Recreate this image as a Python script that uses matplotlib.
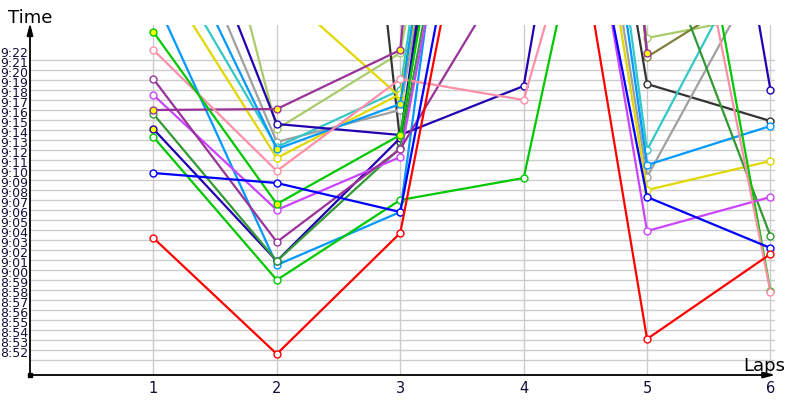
import matplotlib
matplotlib.use('Agg')
import matplotlib.pyplot as plt

# lap times in seconds (9:00 = 540), values above ~9:25 run off the top of the chart
laps = [1, 2, 3, 4, 5, 6]

red = [544.2, 532.6, 544.7, 608, 534.1, 542.6]
blue = [550.7, 549.7, 546.8, 611.6, 548.3, 543.2]
green = [554.3, 540.0, 548.0, 550.2, 607, 538.9]
green_y = [564.8, 547.6, 554.5, 625, 650, 635]
pink = [563.0, 550.9, 560.1, 558.0, 600.8, 538.8]
purple = [560.1, 543.8, 553.1, 573.5, 600, 590]
purple_y = [557.0, 557.1, 563.0, 690, 562.7, None]
violet = [558.5, 547.0, 552.3, 618, 544.9, 548.3]
dkgreen = [556.6, 541.9, 553.2, 620, 576.8, 544.4]
navy_y = [555.1, 541.9, 554.2, 640, 660, None]
navy = [587, 555.6, 554.5, 559.4, 630, 559.0]
dodger = [568.5, 541.5, 546.8, 638, 551.5, 555.4]
dodger_y = [578.7, 553.1, 557.6, 640, 660, None]
yellow = [571.8, 552.2, 558.6, 624.7, 549.0, 551.9]
yellow2 = [585, 569.3, 558.3, 630, 640, None]
cyan = [574.3, 553.3, 559.0, 644, 553.0, 576.3]
gray = [582.9, 553.8, 557.0, 628.6, 550.3, 572.8]
ygreen = [602.8, 555.1, 562.7, 630, 564.2, 566.6]
black = [670, 667, 553.8, 633, 559.6, 555.9]
olive = [None, None, None, 690, 562.3, 570]

# (values, line colour, marker fill)
series = [
    (ygreen, '#a8cc6a', 'white'),
    (olive, '#7f7f3c', 'white'),
    (black, '#333333', 'white'),
    (gray, '#a0a0a0', 'white'),
    (cyan, '#33c8c8', 'white'),
    (yellow2, '#e0d800', 'yellow'),
    (yellow, '#e0d800', 'white'),
    (dodger_y, '#0099ff', 'yellow'),
    (dodger, '#0099ff', 'white'),
    (navy, '#2200b0', 'white'),
    (navy_y, '#2200b0', 'yellow'),
    (dkgreen, '#339933', 'white'),
    (green, '#00c800', 'white'),
    (violet, '#cc44ff', 'white'),
    (purple_y, '#993399', 'yellow'),
    (purple, '#993399', 'white'),
    (pink, '#ff8fa8', 'white'),
    (green_y, '#00c800', 'yellow'),
    (blue, '#0000ff', 'white'),
    (red, '#ff0000', 'white'),
]

yticks = list(range(532, 563))
ytick_labels = ['%d:%02d' % (t // 60, t % 60) for t in yticks]

fig = plt.figure(figsize=(8, 4), dpi=100)
ax = fig.add_axes([30/800, 25/400, 745.4/800, 350/400])

for vals, col, face in series:
    xs = [l for l, v in zip(laps, vals) if v is not None]
    ys = [v for v in vals if v is not None]
    ax.plot(xs, ys, color=col, lw=1.6, marker='o', ms=5, mfc=face, mec=col, mew=1)

ax.set_xlim(0, 6.04)
ax.set_ylim(530.5, 565.5)
ax.set_xticks(laps)
ax.set_xticklabels([str(l) for l in laps])
ax.set_yticks(yticks)
ax.set_yticklabels(ytick_labels)
for lab in ax.get_yticklabels():
    lab.set_verticalalignment('bottom')
ax.tick_params(axis='y', length=0, pad=1, labelsize=9, labelcolor='#101038')
ax.tick_params(axis='x', length=0, pad=4, labelsize=10.5, labelcolor='#101038')
ax.grid(True, color='#cccccc', lw=1)
ax.set_axisbelow(True)
for s in ax.spines.values():
    s.set_visible(False)

# axes with arrows
arrow = dict(arrowstyle='-|>,head_length=0.7,head_width=0.18', color='black', lw=1.3,
             shrinkA=0, shrinkB=0)
ax.annotate('', xy=(0, 1.006), xytext=(0, 0), xycoords='axes fraction', arrowprops=arrow)
ax.annotate('', xy=(1.0, 0), xytext=(0, 0), xycoords='axes fraction', arrowprops=arrow)
ax.plot([0], [530.5], 's', ms=3, color='black', clip_on=False)

fig.text(8/800, 1 - 18/400, 'Time', fontsize=13, va='center', ha='left')
fig.text(743/800, 1 - 366/400, 'Laps', fontsize=13, va='center', ha='left')

fig.savefig('out.png', dpi=100)
